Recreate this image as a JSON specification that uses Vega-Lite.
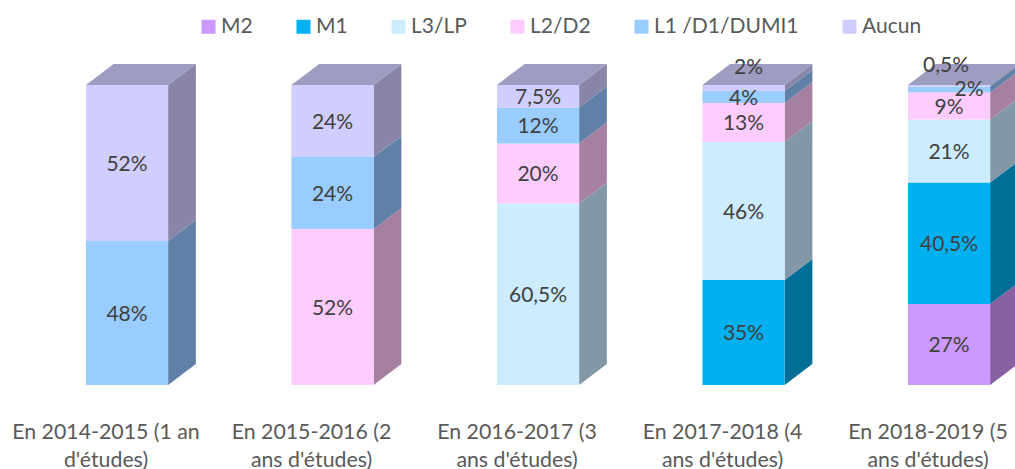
{
"$schema":"https://vega.github.io/schema/vega-lite/v6.json",
"width":1015,"height":469,"padding":0,
"autosize":{"type":"none"},
"background":"white",
"config":{"view":{"stroke":null},"text":{"font":"Lato"}},
"resolve":{"legend":{"color":"independent","fill":"independent"}},
"data":{"values":[
{"annee":"En 2014-2015 (1 an\nd'études)","i":0,"niveau":"L1 /D1/DUMI1","ordre":5,"valeur":48,"label":"48%"},
{"annee":"En 2014-2015 (1 an\nd'études)","i":0,"niveau":"Aucun","ordre":6,"valeur":52,"label":"52%"},
{"annee":"En 2015-2016 (2\nans d'études)","i":1,"niveau":"L2/D2","ordre":4,"valeur":52,"label":"52%"},
{"annee":"En 2015-2016 (2\nans d'études)","i":1,"niveau":"L1 /D1/DUMI1","ordre":5,"valeur":24,"label":"24%"},
{"annee":"En 2015-2016 (2\nans d'études)","i":1,"niveau":"Aucun","ordre":6,"valeur":24,"label":"24%"},
{"annee":"En 2016-2017 (3\nans d'études)","i":2,"niveau":"L3/LP","ordre":3,"valeur":60.5,"label":"60,5%"},
{"annee":"En 2016-2017 (3\nans d'études)","i":2,"niveau":"L2/D2","ordre":4,"valeur":20,"label":"20%"},
{"annee":"En 2016-2017 (3\nans d'études)","i":2,"niveau":"L1 /D1/DUMI1","ordre":5,"valeur":12,"label":"12%"},
{"annee":"En 2016-2017 (3\nans d'études)","i":2,"niveau":"Aucun","ordre":6,"valeur":7.5,"label":"7,5%"},
{"annee":"En 2017-2018 (4\nans d'études)","i":3,"niveau":"M1","ordre":2,"valeur":35,"label":"35%"},
{"annee":"En 2017-2018 (4\nans d'études)","i":3,"niveau":"L3/LP","ordre":3,"valeur":46,"label":"46%"},
{"annee":"En 2017-2018 (4\nans d'études)","i":3,"niveau":"L2/D2","ordre":4,"valeur":13,"label":"13%"},
{"annee":"En 2017-2018 (4\nans d'études)","i":3,"niveau":"L1 /D1/DUMI1","ordre":5,"valeur":4,"label":"4%"},
{"annee":"En 2017-2018 (4\nans d'études)","i":3,"niveau":"Aucun","ordre":6,"valeur":2,"label":"2%"},
{"annee":"En 2018-2019 (5\nans d'études)","i":4,"niveau":"M2","ordre":1,"valeur":27,"label":"27%"},
{"annee":"En 2018-2019 (5\nans d'études)","i":4,"niveau":"M1","ordre":2,"valeur":40.5,"label":"40,5%"},
{"annee":"En 2018-2019 (5\nans d'études)","i":4,"niveau":"L3/LP","ordre":3,"valeur":21,"label":"21%"},
{"annee":"En 2018-2019 (5\nans d'études)","i":4,"niveau":"L2/D2","ordre":4,"valeur":9,"label":"9%"},
{"annee":"En 2018-2019 (5\nans d'études)","i":4,"niveau":"L1 /D1/DUMI1","ordre":5,"valeur":2,"label":"2%"},
{"annee":"En 2018-2019 (5\nans d'études)","i":4,"niveau":"Aucun","ordre":6,"valeur":0.5,"label":"0,5%"}
]},
"transform":[
{"stack":"valeur","groupby":["i"],"sort":[{"field":"ordre","order":"ascending"}],"as":["v0","v1"]},
{"calculate":"(datum.v0+datum.v1)/2","as":"vm"}
],
"layer":[
{"transform":[
 {"calculate":"[0,1]","as":"t"},{"flatten":["t"]},
 {"calculate":"datum.i+0.2+datum.t*0.135","as":"xs"},
 {"calculate":"datum.v0+datum.t*7","as":"ys0"},
 {"calculate":"datum.v1+datum.t*7","as":"ys1"},
 {"calculate":"datum.i+'-'+datum.ordre","as":"seg"}],
 "mark":{"type":"area","interpolate":"linear","stroke":null},
 "encoding":{
  "x":{"field":"xs","type":"quantitative","scale":{"domain":[-0.618,4.321],"nice":false,"zero":false},"axis":null},
  "y":{"field":"ys0","type":"quantitative","scale":{"domain":[-28,128.33],"nice":false,"zero":false},"axis":null},
  "y2":{"field":"ys1"},
  "detail":{"field":"seg"},
  "fill":{"field":"niveau","type":"nominal","legend":null,
   "scale":{"domain":["M2","M1","L3/LP","L2/D2","L1 /D1/DUMI1","Aucun"],"range":["#8660a0","#006f98","#8298a6","#a680a0","#6080a8","#8885a8"]}}
 }},
{"transform":[
 {"filter":"datum.ordre==6"},
 {"calculate":"[0,0.135,0.4,0.535]","as":"t"},{"flatten":["t"]},
 {"calculate":"datum.i-0.2+datum.t","as":"xt"},
 {"calculate":"datum.t<=0.4?100:107","as":"ylo"},
 {"calculate":"datum.t==0?100:107","as":"yhi"}],
 "mark":{"type":"area","interpolate":"linear","color":"#9e9cc0"},
 "encoding":{
  "x":{"field":"xt","type":"quantitative"},
  "y":{"field":"ylo","type":"quantitative"},
  "y2":{"field":"yhi"},
  "detail":{"field":"i"}
 }},
{"transform":[
 {"calculate":"datum.i-0.2","as":"xa"},{"calculate":"datum.i+0.2","as":"xb"}],
 "mark":{"type":"rect"},
 "encoding":{
  "x":{"field":"xa","type":"quantitative"},
  "x2":{"field":"xb"},
  "y":{"field":"v0","type":"quantitative"},
  "y2":{"field":"v1"},
  "color":{"field":"niveau","type":"nominal",
   "scale":{"domain":["M2","M1","L3/LP","L2/D2","L1 /D1/DUMI1","Aucun"],"range":["#cc99ff","#00b0f0","#cdecff","#ffccff","#99ccff","#d0cdff"]},
   "legend":{"title":null,"orient":"none","legendX":198,"legendY":16,"direction":"horizontal","columns":6,"symbolType":"square","symbolSize":196,"symbolStrokeWidth":0,"labelFont":"Lato","labelFontSize":21,"labelColor":"#595959","columnPadding":40,"labelOffset":2,"gridAlign":"each"}}
 }},
{"transform":[{"filter":"!((datum.i==3&&datum.ordre==6)||(datum.i==4&&datum.ordre>=5))"}],
 "mark":{"type":"text","fontSize":21,"color":"#404040","dy":2},
 "encoding":{"x":{"field":"i","type":"quantitative"},"y":{"field":"vm","type":"quantitative"},"text":{"field":"label"}}},
{"transform":[{"filter":"datum.i==3&&datum.ordre==6"}],
 "mark":{"type":"text","fontSize":21,"color":"#404040","dx":5,"dy":-20},
 "encoding":{"x":{"field":"i","type":"quantitative"},"y":{"field":"vm","type":"quantitative"},"text":{"field":"label"}}},
{"transform":[{"filter":"datum.i==4&&datum.ordre==6"}],
 "mark":{"type":"text","fontSize":21,"color":"#404040","dx":-3,"dy":-20},
 "encoding":{"x":{"field":"i","type":"quantitative"},"y":{"field":"vm","type":"quantitative"},"text":{"field":"label"}}},
{"transform":[{"filter":"datum.i==4&&datum.ordre==5"}],
 "mark":{"type":"text","fontSize":21,"color":"#404040","dx":20,"dy":1},
 "encoding":{"x":{"field":"i","type":"quantitative"},"y":{"field":"vm","type":"quantitative"},"text":{"field":"label"}}},
{"transform":[{"filter":"datum.ordre==6"}],
 "mark":{"type":"text","fontSize":21.3,"color":"#595959","dx":-21,"baseline":"alphabetic","lineBreak":"\n","lineHeight":28},
 "encoding":{"x":{"field":"i","type":"quantitative"},"y":{"datum":-18,"type":"quantitative"},"text":{"field":"annee"}}}
]
}
